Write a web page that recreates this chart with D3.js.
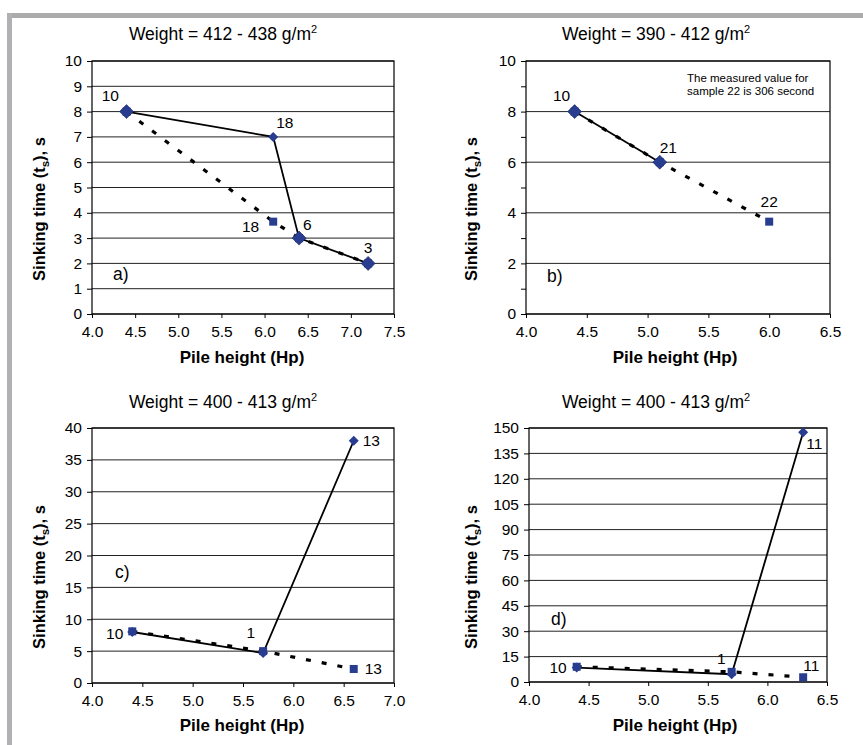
<!DOCTYPE html>
<html>
<head>
<meta charset="utf-8">
<script src="https://cdn.jsdelivr.net/npm/d3@7"></script>
<style>
  body { margin: 0; background: #fff; }
  svg { font-family: "Liberation Sans", Arial, sans-serif; }
</style>
</head>
<body>
<svg width="863" height="745"></svg>
<script>
// ---- data ----

// a) Weight = 412 - 438
var aXTicks = [4.0, 4.5, 5.0, 5.5, 6.0, 6.5, 7.0, 7.5];
var aYTicks = [0, 1, 2, 3, 4, 5, 6, 7, 8, 9, 10];
var aSolidX = [4.4, 6.1, 6.4, 7.2];
var aSolidY = [8, 7, 3, 2];
var aSolidLabels = ["10", "18", "6", "3"];
var aDashX = [4.4, 6.1, 6.4, 7.2];
var aDashY = [8, 3.65, 3, 2];
var aDashLabels = ["", "18", "", ""];

// b) Weight = 390 - 412
var bXTicks = [4.0, 4.5, 5.0, 5.5, 6.0, 6.5];
var bYTicks = [0, 1, 2, 3, 4, 5, 6, 7, 8, 9, 10];
var bYLabels = [0, 2, 4, 6, 8, 10];
var bSolidX = [4.4, 5.1];
var bSolidY = [8, 6];
var bSolidLabels = ["10", "21"];
var bDashX = [4.4, 5.1, 6.0];
var bDashY = [8, 6, 3.65];
var bDashLabels = ["", "", "22"];

// c) Weight = 400 - 413
var cXTicks = [4.0, 4.5, 5.0, 5.5, 6.0, 6.5, 7.0];
var cYTicks = [0, 5, 10, 15, 20, 25, 30, 35, 40];
var cSolidX = [4.4, 5.7, 6.6];
var cSolidY = [8, 4.7, 38];
var cSolidLabels = ["", "1", "13"];
var cDashX = [4.4, 5.7, 6.6];
var cDashY = [8.1, 5.0, 2.2];
var cDashLabels = ["10", "", "13"];

// d) Weight = 400 - 413
var dXTicks = [4.0, 4.5, 5.0, 5.5, 6.0, 6.5];
var dYTicks = [0, 15, 30, 45, 60, 75, 90, 105, 120, 135, 150];
var dSolidX = [4.4, 5.7, 6.3];
var dSolidY = [8.5, 4.6, 147.5];
var dSolidLabels = ["", "1", "11"];
var dDashX = [4.4, 5.7, 6.3];
var dDashY = [9, 6, 2.8];
var dDashLabels = ["10", "", "11"];

// label placement (dx, dy, anchor) in pixels, kept apart from the values
var aSolidOff = [[-7.5, -11, "end"], [3, -9, "start"], [4, -8, "start"], [0, -10, "middle"]];
var aDashOff = [null, [-14, 10, "end"], null, null];
var bSolidOff = [[-4.5, -11, "end"], [0, -9, "start"]];
var bDashOff = [null, null, [0, -15, "middle"]];
var cSolidOff = [null, [-8, -15, "end"], [9, 5.7, "start"]];
var cDashOff = [[-9, 7.6, "end"], null, [11, 5, "start"]];
var dSolidOff = [null, [-6, -10, "end"], [3, 17, "start"]];
var dDashOff = [[-10, 6, "end"], null, [0, -6, "start"]];

var navy = "#283c90";

var svg = d3.select("svg");

// grey frame round the figure
svg.append("rect").attr("x", 7).attr("y", 13).attr("width", 856).attr("height", 5).attr("fill", "#ababab");
svg.append("rect").attr("x", 7).attr("y", 13).attr("width", 5).attr("height", 732).attr("fill", "#b1b1b4");

var panels = [
    {left: 92, right: 394, top: 61, bottom: 314, xDom: [4, 7.5], xTicks: aXTicks,
     yDom: [0, 10], yTicks: aYTicks, yLabels: aYTicks,
     title: "Weight = 412 - 438 g/m", titleX: 223, titleY: 40,
     yTitleX: 45, yTitleY: 209, xTitleX: 242, xTitleY: 363,
     tag: "a)", tagX: 113, tagY: 280,
     solid: [aSolidX, aSolidY, aSolidLabels, aSolidOff],
     dash: [aDashX, aDashY, aDashLabels, aDashOff]},
    {left: 526, right: 830, top: 61, bottom: 314, xDom: [4, 6.5], xTicks: bXTicks,
     yDom: [0, 10], yTicks: bYTicks, yLabels: bYLabels,
     title: "Weight = 390 - 412 g/m", titleX: 656, titleY: 40,
     yTitleX: 477, yTitleY: 209, xTitleX: 675, xTitleY: 363,
     tag: "b)", tagX: 547, tagY: 282,
     note: ["The measured value for", "sample 22 is 306 second"], noteX: 687, noteY: 82,
     solid: [bSolidX, bSolidY, bSolidLabels, bSolidOff],
     dash: [bDashX, bDashY, bDashLabels, bDashOff]},
    {left: 92, right: 394, top: 428, bottom: 683, xDom: [4, 7], xTicks: cXTicks,
     yDom: [0, 40], yTicks: cYTicks, yLabels: cYTicks,
     title: "Weight = 400 - 413 g/m", titleX: 223, titleY: 408,
     yTitleX: 45, yTitleY: 577, xTitleX: 242, xTitleY: 731,
     tag: "c)", tagX: 115, tagY: 578,
     solid: [cSolidX, cSolidY, cSolidLabels, cSolidOff],
     dash: [cDashX, cDashY, cDashLabels, cDashOff]},
    {left: 529, right: 827, top: 428, bottom: 682, xDom: [4, 6.5], xTicks: dXTicks,
     yDom: [0, 150], yTicks: dYTicks, yLabels: dYTicks,
     title: "Weight = 400 - 413 g/m", titleX: 656, titleY: 408,
     yTitleX: 477, yTitleY: 577, xTitleX: 675, xTitleY: 731,
     tag: "d)", tagX: 551, tagY: 625,
     solid: [dSolidX, dSolidY, dSolidLabels, dSolidOff],
     dash: [dDashX, dDashY, dDashLabels, dDashOff]}
];

function diamond(r) {
    return "M0," + (-r) + "L" + r + ",0L0," + r + "L" + (-r) + ",0Z";
}

function toPoints(s) {
    return s[0].map(function(v, i) {
	return {x: v, y: s[1][i], label: s[2][i], off: s[3][i]};
    });
}

function drawPanel(p) {
    var x = d3.scaleLinear().domain(p.xDom).range([p.left, p.right]);
    var y = d3.scaleLinear().domain(p.yDom).range([p.bottom, p.top]);
    var g = svg.append("g");

    // grid lines
    g.selectAll(".grid").data(p.yLabels).enter().append("line")
	.attr("x1", p.left).attr("x2", p.right)
	.attr("y1", function(d) { return y(d); }).attr("y2", function(d) { return y(d); })
	.attr("stroke", "#222").attr("stroke-width", 1);

    // axes
    var ya = g.append("g").attr("transform", "translate(" + p.left + ",0)")
	.call(d3.axisLeft(y).tickValues(p.yTicks).tickSize(5).tickPadding(5)
	      .tickFormat(function(d) { return p.yLabels.indexOf(d) >= 0 ? d : ""; }));
    var xa = g.append("g").attr("transform", "translate(0," + p.bottom + ")")
	.call(d3.axisBottom(x).tickValues(p.xTicks).tickSize(4).tickPadding(8)
	      .tickFormat(d3.format(".1f")));
    [ya, xa].forEach(function(a) {
	a.select(".domain").remove();
	a.attr("font-size", 15.5).attr("font-family", null);
	a.selectAll("line").attr("stroke", "#000");
	a.selectAll("text").attr("fill", "#000");
    });

    g.append("rect").attr("x", p.left).attr("y", p.top)
	.attr("width", p.right - p.left).attr("height", p.bottom - p.top)
	.attr("fill", "none").attr("stroke", "#000").attr("stroke-width", 1.2);

    // titles
    var t = g.append("text").attr("x", p.titleX).attr("y", p.titleY)
	.attr("text-anchor", "middle").attr("font-size", 17.5).attr("fill", "#000").text(p.title);
    t.append("tspan").attr("font-size", 11).attr("dy", -7).text("2");

    var yt = g.append("text").attr("transform", "translate(" + p.yTitleX + "," + p.yTitleY + ") rotate(-90)")
	.attr("text-anchor", "middle").attr("font-size", 16.5).attr("font-weight", "bold").attr("fill", "#000");
    yt.append("tspan").text("Sinking time (t");
    yt.append("tspan").attr("font-size", 11.5).attr("dy", 4).text("s");
    yt.append("tspan").attr("dy", -4).text("), s");

    g.append("text").attr("x", p.xTitleX).attr("y", p.xTitleY)
	.attr("text-anchor", "middle").attr("font-size", 17).attr("font-weight", "bold")
	.attr("fill", "#000").text("Pile height (Hp)");

    g.append("text").attr("x", p.tagX).attr("y", p.tagY)
	.attr("font-size", 17.5).attr("fill", "#000").text(p.tag);

    if (p.note) {
	p.note.forEach(function(line, i) {
	    g.append("text").attr("x", p.noteX).attr("y", p.noteY + i * 12.5)
		.attr("font-size", 11.5).attr("fill", "#000").text(line);
	});
    }

    var solid = toPoints(p.solid);
    var dash = toPoints(p.dash);
    var line = d3.line().x(function(d) { return x(d.x); }).y(function(d) { return y(d.y); });

    g.append("path").datum(dash).attr("d", line).attr("fill", "none")
	.attr("stroke", "#000").attr("stroke-width", 3.2).attr("stroke-dasharray", "5,11");
    g.append("path").datum(solid).attr("d", line).attr("fill", "none")
	.attr("stroke", "#000").attr("stroke-width", 1.8);

    // diamonds that sit on a square are drawn big and on top
    solid.forEach(function(d) {
	d.shared = dash.some(function(e) { return e.x == d.x && e.y == d.y; });
    });

    g.selectAll(".dsmall").data(solid.filter(function(d) { return !d.shared; })).enter().append("path")
	.attr("d", diamond(5)).attr("fill", navy)
	.attr("transform", function(d) { return "translate(" + x(d.x) + "," + y(d.y) + ")"; });
    g.selectAll(".sq").data(dash).enter().append("rect")
	.attr("x", function(d) { return x(d.x) - 4; }).attr("y", function(d) { return y(d.y) - 4; })
	.attr("width", 8).attr("height", 8).attr("fill", navy);
    g.selectAll(".dbig").data(solid.filter(function(d) { return d.shared; })).enter().append("path")
	.attr("d", diamond(7)).attr("fill", navy).attr("stroke", "#1a2560").attr("stroke-width", 0.6)
	.attr("transform", function(d) { return "translate(" + x(d.x) + "," + y(d.y) + ")"; });

    // point labels
    solid.concat(dash).forEach(function(d) {
	if (!d.label) return;
	g.append("text").attr("x", x(d.x) + d.off[0]).attr("y", y(d.y) + d.off[1])
	    .attr("text-anchor", d.off[2]).attr("font-size", 15.5).attr("fill", "#000").text(d.label);
    });
}

for (var i = 0; i < panels.length; i++) {
    drawPanel(panels[i]);
}
</script>
</body>
</html>
